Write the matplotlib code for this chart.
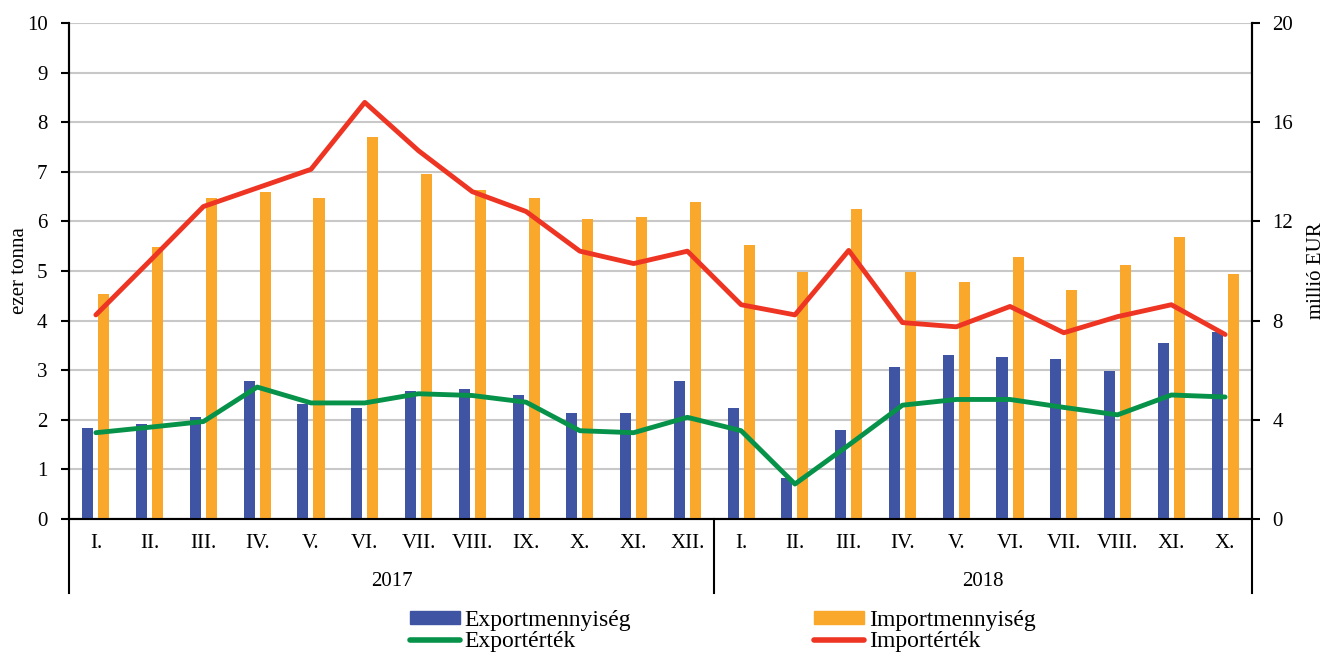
import matplotlib
matplotlib.use("Agg")
import matplotlib.pyplot as plt
import matplotlib.transforms as mtransforms
from matplotlib.patches import Patch
from matplotlib.lines import Line2D
import numpy as np

plt.rcParams['font.family'] = ['Liberation Serif', 'DejaVu Serif']

months = ["I.", "II.", "III.", "IV.", "V.", "VI.", "VII.", "VIII.", "IX.", "X.", "XI.", "XII.",
          "I.", "II.", "III.", "IV.", "V.", "VI.", "VII.", "VIII.", "XI.", "X."]
years = ["2017", "2018"]
year_counts = [12, 10]

export_qty = [1.83, 1.91, 2.06, 2.78, 2.31, 2.23, 2.58, 2.62, 2.50, 2.14, 2.14, 2.78,
              2.23, 0.83, 1.80, 3.06, 3.30, 3.26, 3.22, 2.98, 3.54, 3.77]
import_qty = [4.53, 5.48, 6.48, 6.60, 6.48, 7.71, 6.95, 6.63, 6.48, 6.04, 6.08, 6.40,
              5.53, 4.97, 6.25, 4.97, 4.77, 5.29, 4.61, 5.13, 5.69, 4.93]
export_val = [3.48, 3.70, 3.93, 5.32, 4.68, 4.68, 5.05, 4.98, 4.71, 3.56, 3.48, 4.10,
              3.56, 1.41, 2.98, 4.59, 4.82, 4.82, 4.50, 4.20, 5.00, 4.92]
import_val = [8.23, 10.4, 12.6, 13.35, 14.1, 16.8, 14.85, 13.2, 12.4, 10.8, 10.3, 10.8,
              8.64, 8.23, 10.83, 7.92, 7.75, 8.57, 7.51, 8.16, 8.64, 7.44]

c_blue = "#3F54A3"
c_orange = "#F9A82B"
c_green = "#07924A"
c_red = "#EE3524"

W, H = 1326, 656
L, R, T, B = 69, 1252, 23, 519
fig = plt.figure(figsize=(W / 100, H / 100), dpi=100)
ax = fig.add_axes([L / W, 1 - B / H, (R - L) / W, (B - T) / H])
ax2 = ax.twinx()

x = np.arange(len(months))
bw = 0.205
off = 0.149
ax.bar(x - off, export_qty, width=bw, color=c_blue, zorder=3)
ax.bar(x + off, import_qty, width=bw, color=c_orange, zorder=3)
ax.set_ylim(0, 10)
ax.set_xlim(-0.5, len(months) - 0.5)
ax.set_yticks(range(0, 11))
ax.yaxis.grid(True, color="#c8c8c8", linewidth=1.5, zorder=0)
ax.set_axisbelow(True)

ax2.plot(x, export_val, color=c_green, linewidth=3.5, solid_capstyle='round', solid_joinstyle='round', zorder=4)
ax2.plot(x, import_val, color=c_red, linewidth=3.5, solid_capstyle='round', solid_joinstyle='round', zorder=4)
ax2.set_ylim(0, 20)
ax2.set_yticks(range(0, 21, 4))

for a in (ax, ax2):
    a.spines['top'].set_visible(False)
    for s in a.spines.values():
        s.set_linewidth(1.5)
        s.set_color("black")
ax.tick_params(axis='y', labelsize=15, length=5.5, width=1.5, direction='out', pad=10)
ax2.tick_params(axis='y', labelsize=15, length=5.5, width=1.5, direction='out', pad=9)

ax.set_xticks(x)
ax.set_xticklabels(months, fontsize=15)
ax.tick_params(axis='x', length=0, pad=11)

ax.set_ylabel("ezer tonna", fontsize=15, labelpad=-2)
ax2.set_ylabel("millió EUR", fontsize=15, labelpad=10)

trans = mtransforms.blended_transform_factory(ax.transData, ax.transAxes)
ypix_bottom = -(593 - B) / (B - T)
bounds = [-0.5]
start = -0.5
for n in year_counts:
    start += n
    bounds.append(start)
for b in bounds:
    ax.plot([b, b], [0, ypix_bottom], transform=trans, color="black", linewidth=1.5, clip_on=False)
for i, yr in enumerate(years):
    cx = (bounds[i] + bounds[i + 1]) / 2
    ax.text(cx, -(582 - B) / (B - T), yr, transform=trans, ha='center', va='center', fontsize=15)

handles = [Patch(color=c_blue, label="Exportmennyiség"),
           Line2D([0], [0], color=c_green, linewidth=4, solid_capstyle='round', label="Exportérték"),
           Patch(color=c_orange, label="Importmennyiség"),
           Line2D([0], [0], color=c_red, linewidth=4, solid_capstyle='round', label="Importérték")]
fig.legend(handles=handles, ncol=2, loc='center', bbox_to_anchor=(0.5452, 1 - 631 / H),
           frameon=False, fontsize=17, handlelength=2.12, handletextpad=0.21,
           columnspacing=7.75, labelspacing=0.02, handleheight=0.5, borderpad=0)

fig.savefig("out.png", dpi=100)
